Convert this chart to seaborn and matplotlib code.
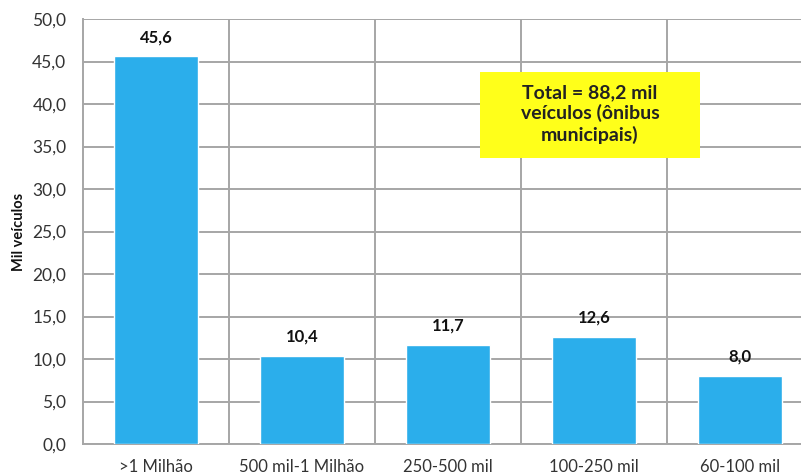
import matplotlib
matplotlib.use("Agg")
import matplotlib.pyplot as plt
import seaborn as sns
import pandas as pd
from matplotlib.patches import Rectangle
from matplotlib.ticker import FuncFormatter, MultipleLocator, FixedLocator

# Frota de ônibus municipais por porte de município (mil veículos)
categorias = [">1 Milhão", "500 mil-1 Milhão", "250-500 mil", "100-250 mil", "60-100 mil"]
valores = [45.6, 10.4, 11.7, 12.6, 8.0]
rotulos = ["45,6", "10,4", "11,7", "12,6", "8,0"]
caixa_texto = "Total = 88,2 mil\nveículos (ônibus\nmunicipais)"

df = pd.DataFrame({"categoria": categorias, "valor": valores})

sns.set_theme(style="white")
plt.rcParams["font.family"] = ["Lato", "DejaVu Sans"]

fig = plt.figure(figsize=(8.01, 4.75), dpi=100)
ax = fig.add_axes([83 / 801, 31 / 475, 730 / 801, 425 / 475])

sns.barplot(data=df, x="categoria", y="valor", color="#2BAEEB", width=0.57,
            saturation=1, ax=ax, zorder=3)

ax.set_xlim(-0.5, 4.5)
ax.set_ylim(0, 50)
ax.yaxis.set_major_locator(MultipleLocator(5))
ax.yaxis.set_major_formatter(FuncFormatter(lambda v, p: f"{v:.1f}".replace(".", ",")))
ax.xaxis.set_minor_locator(FixedLocator([0.5, 1.5, 2.5, 3.5]))

grid_color = "#A6A6A6"
ax.grid(axis="y", which="major", color=grid_color, linewidth=1.4, zorder=0)
ax.grid(axis="x", which="minor", color=grid_color, linewidth=1.4, zorder=0)
ax.set_axisbelow(True)
for side in ["top", "right"]:
    ax.spines[side].set_visible(False)
for side in ["left", "bottom"]:
    ax.spines[side].set_color(grid_color)
    ax.spines[side].set_linewidth(1.4)

ax.tick_params(axis="y", which="major", length=0, pad=12, labelsize=12.5, labelcolor="#333333")
ax.tick_params(axis="x", which="major", length=0, pad=11, labelsize=12, labelcolor="#333333")
ax.tick_params(axis="x", which="minor", length=0)

ax.set_xlabel("")
ax.set_ylabel("Mil veículos", fontsize=10.5, fontweight="bold", color="#111111")
ax.yaxis.set_label_coords(-(83 - 26) / 730, 0.5)

for i, (v, r) in enumerate(zip(valores, rotulos)):
    ax.annotate(r, xy=(i, v), xytext=(0, 8), textcoords="offset points",
                ha="center", va="bottom", fontsize=12, fontweight="bold", color="#111111")

# Caixa de destaque com o total
ax.add_patch(Rectangle(((480 - 83) / 730, (444 - 158) / 425), 220 / 730, 86 / 425,
                       transform=ax.transAxes, facecolor="#FFFF1A", edgecolor="none", zorder=4))
ax.text((590 - 83) / 730, (444 - 114) / 425, caixa_texto, transform=ax.transAxes,
        ha="center", va="center", fontsize=14, fontweight="bold", color="#222222",
        linespacing=1.2, zorder=5)

fig.savefig("out.png", dpi=100)
